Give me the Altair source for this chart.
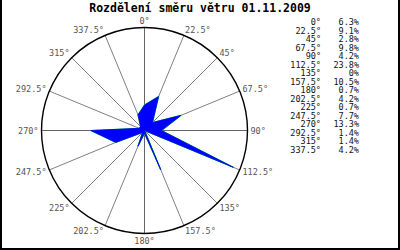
import altair as alt
import numpy as np
import pandas as pd

# ---- data ----
directions = [0, 22.5, 45, 67.5, 90, 112.5, 135, 157.5, 180, 202.5, 225, 247.5, 270, 292.5, 315, 337.5]
dir_labels = ["0°", "22.5°", "45°", "67.5°", "90°", "112.5°", "135°", "157.5°", "180°",
              "202.5°", "225°", "247.5°", "270°", "292.5°", "315°", "337.5°"]
percents = [6.3, 9.1, 2.8, 9.8, 4.2, 23.8, 0, 10.5, 0.7, 4.2, 0.7, 7.7, 13.3, 1.4, 1.4, 4.2]
pct_labels = ["6.3%", "9.1%", "2.8%", "9.8%", "4.2%", "23.8%", "0%", "10.5%", "0.7%",
              "4.2%", "0.7%", "7.7%", "13.3%", "1.4%", "1.4%", "4.2%"]
title_text = "Rozdělení směru větru 01.11.2009"

# ---- geometry of the polar scale ----
RMAX = 25.5            # percent value at the outer circle
RPIX = 103.0           # outer circle radius in pixels
CX, CY = 144.5, 130.5  # centre in pixels
W, H = 400, 250
k = RPIX / RMAX

xscale = alt.Scale(domain=[-CX / k, (W - CX) / k], range=[0, W], nice=False, zero=False)
yscale = alt.Scale(domain=[-(H - CY) / k, CY / k], range=[H, 0], nice=False, zero=False)

th = np.radians(directions)
poly = pd.DataFrame({
    "i": list(range(len(directions) + 1)),
    "x": list(np.array(percents) * np.sin(th)) + [percents[0] * np.sin(th[0])],
    "y": list(np.array(percents) * np.cos(th)) + [percents[0] * np.cos(th[0])],
})

spokes = pd.DataFrame({
    "x": 0.0, "y": 0.0,
    "x2": RMAX * np.sin(th), "y2": RMAX * np.cos(th),
    "main": [d % 90 == 0 for d in directions],
})

s = np.sin(th)
side = np.where(s > 0.01, "l", np.where(s < -0.01, "r", "c"))
rx = np.where(side == "c", 110, 106) / k
ry = np.where(side == "c", 110, 109) / k
lab = pd.DataFrame({
    "t": dir_labels,
    "x": rx * np.sin(th),
    "y": ry * np.cos(th),
    "side": side,
})

legend = pd.DataFrame({"d": dir_labels, "p": pct_labels, "i": list(range(len(dir_labels)))})

X = lambda f: alt.X(f, type="quantitative", scale=xscale, axis=None)
Y = lambda f: alt.Y(f, type="quantitative", scale=yscale, axis=None)

circle = alt.Chart(pd.DataFrame({"x": [0.0], "y": [0.0]})).mark_point(
    shape="circle", size=(2 * RPIX) ** 2, filled=False, stroke="#000000", strokeWidth=1.4, opacity=1
).encode(x=X("x"), y=Y("y"))

spoke_layer = alt.Chart(spokes).mark_rule(strokeWidth=1).encode(
    x=X("x"), y=Y("y"), x2="x2", y2="y2",
    color=alt.condition("datum.main", alt.value("#666666"), alt.value("#808080")),
)

outline = alt.Chart(poly).mark_line(color="#00ee00", strokeWidth=1.2).encode(
    x=X("x"), y=Y("y"), order="i:Q")
fill = alt.Chart(poly).mark_line(fill="#0000ff", stroke="#0000ff", strokeWidth=0.8).encode(
    x=X("x"), y=Y("y"), order="i:Q")

font = "DejaVu Sans Mono"
lab_layers = []
for sd, al in [("l", "left"), ("r", "right"), ("c", "center")]:
    lab_layers.append(
        alt.Chart(lab).transform_filter(f"datum.side == '{sd}'").mark_text(
            align=al, baseline="middle", font=font, fontSize=8.5, color="#555555"
        ).encode(x=X("x"), y=Y("y"), text="t:N")
    )

ly = alt.Y("i:O", scale=alt.Scale(type="point", range=[22, 150], padding=0), axis=None)
leg_d = alt.Chart(legend).mark_text(align="right", baseline="middle", font=font,
                                    fontSize=8.5, color="#111111").encode(
    x=alt.value(321), y=ly, text="d:N")
leg_p = alt.Chart(legend).mark_text(align="right", baseline="middle", font=font,
                                    fontSize=8.5, color="#111111").encode(
    x=alt.value(359), y=ly, text="p:N")
leg = alt.layer(leg_d, leg_p)

one = pd.DataFrame({"a": [0]})
title = alt.Chart(one).mark_text(align="center", baseline="middle", font=font, fontSize=11.5,
                                 fontWeight="bold", color="#000000", text=title_text).encode(
    x=alt.value(200), y=alt.value(9))
frame_l = alt.Chart(one).mark_rule(color="#000000", strokeWidth=2).encode(
    x=alt.value(1), y=alt.value(0), y2=alt.value(250))
frame_r = alt.Chart(one).mark_rule(color="#000000", strokeWidth=2).encode(
    x=alt.value(399), y=alt.value(0), y2=alt.value(250))
frame_b = alt.Chart(one).mark_rule(color="#000000", strokeWidth=2).encode(
    x=alt.value(0), x2=alt.value(400), y=alt.value(249))

polar = alt.layer(spoke_layer, circle, outline, fill, *lab_layers)

chart = alt.layer(polar, leg, title, frame_l, frame_r, frame_b).resolve_scale(
    y="independent", x="independent"
).properties(
    width=W, height=H, padding=0, autosize=alt.AutoSizeParams(type="none"), background="#ffffff"
).configure_view(stroke=None)

chart.save("out.html", embed_options={"renderer": "svg", "actions": False})
